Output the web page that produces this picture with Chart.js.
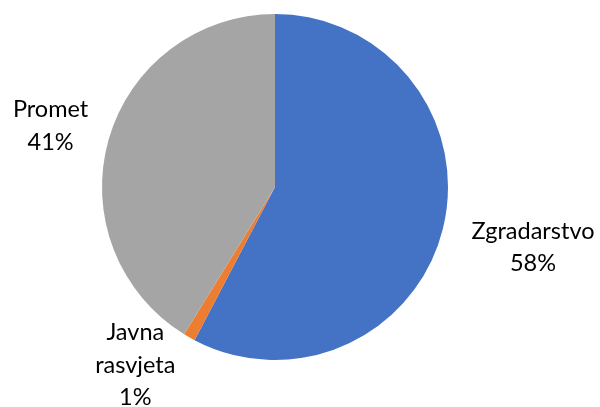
<!DOCTYPE html>
<html>
<head>
<meta charset="utf-8">
<script src="https://cdn.jsdelivr.net/npm/chart.js@4/dist/chart.umd.min.js"></script>
<style>
  html, body { margin: 0; padding: 0; background: #fff; }
  #wrap { width: 600px; height: 407px; position: relative; }
</style>
</head>
<body>
<div id="wrap"><canvas id="pieChart" width="600" height="407"></canvas></div>
<script>
// chart data
var categories = ["Zgradarstvo", "Javna rasvjeta", "Promet"];
var shares = [57.7, 1.1, 41.2];
var sliceColors = ["#4472C4", "#ED7D31", "#A5A5A5"];

// how the label text is broken in lines
var labelLines = [["Zgradarstvo"], ["Javna", "rasvjeta"], ["Promet"]];
// label block shift from the outer edge of each slice (px)
var labelShift = [[90, 19], [-54, 28], [-58, -14]];

var outsideLabels = {
    id: 'outsideLabels',
    afterDatasetsDraw(chart) {
        var ctx = chart.ctx;
        var meta = chart.getDatasetMeta(0);
        var total = shares.reduce((a, b) => a + b, 0);
        ctx.save();
        ctx.font = '23.5px Lato, "Open Sans", sans-serif';
        ctx.fillStyle = '#000';
        ctx.textAlign = 'center';
        ctx.textBaseline = 'middle';
        var lineH = 32.5;
        meta.data.forEach(function (arc, i) {
            var mid = (arc.startAngle + arc.endAngle) / 2;
            var ex = arc.x + Math.cos(mid) * arc.outerRadius;
            var ey = arc.y + Math.sin(mid) * arc.outerRadius;
            var cx = ex + labelShift[i][0];
            var cy = ey + labelShift[i][1];
            var lines = labelLines[i].concat([Math.round(shares[i] / total * 100) + "%"]);
            var top = cy - (lines.length - 1) * lineH / 2;
            lines.forEach(function (t, k) {
                ctx.fillText(t, cx, top + k * lineH);
            });
        });
        ctx.restore();
    }
};

var chart = new Chart(document.getElementById('pieChart'), {
    type: 'pie',
    data: {
        labels: categories,
        datasets: [{
            data: shares,
            backgroundColor: sliceColors,
            borderWidth: 0
        }]
    },
    options: {
        responsive: false,
        animation: false,
        layout: { padding: { top: 14, bottom: 47, left: 102, right: 152 } },
        plugins: {
            legend: { display: false },
            tooltip: { enabled: false }
        }
    },
    plugins: [outsideLabels]
});
</script>
</body>
</html>
